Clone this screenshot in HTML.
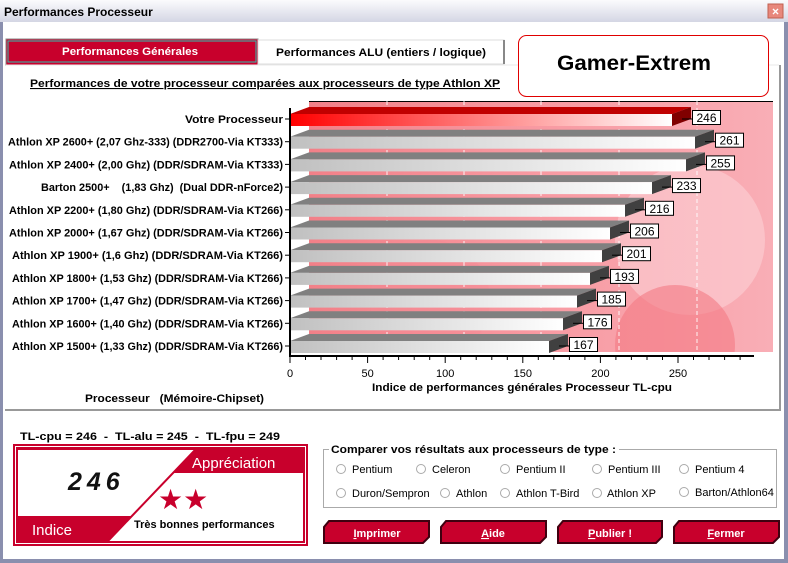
<!DOCTYPE html>
<html><head><meta charset="utf-8"><style>
html,body{margin:0;padding:0;background:#fff;}
svg{display:block;font-family:"Liberation Sans",Arial,sans-serif;}
.b{font-weight:bold;font-size:11px;}
.r{font-size:11px;}
</style></head><body>
<svg width="788" height="563" viewBox="0 0 788 563" xmlns="http://www.w3.org/2000/svg">
<defs>
<linearGradient id="tb" x1="0" y1="0" x2="0" y2="1"><stop offset="0" stop-color="#fbfbfd"/><stop offset="1" stop-color="#d4d6e4"/></linearGradient>
<linearGradient id="gg" x1="0" y1="0" x2="1" y2="0"><stop offset="0" stop-color="#c0c0c0"/><stop offset="1" stop-color="#ffffff"/></linearGradient>
<linearGradient id="rg" x1="0" y1="0" x2="1" y2="0"><stop offset="0" stop-color="#ff0000"/><stop offset="1" stop-color="#ffffff"/></linearGradient>
<linearGradient id="bg" x1="0" y1="0" x2="1" y2="0"><stop offset="0" stop-color="#f28088"/><stop offset="0.5" stop-color="#f89aa2"/><stop offset="1" stop-color="#f9aeb6"/></linearGradient>
<clipPath id="cp"><rect x="309" y="101" width="464" height="251"/></clipPath>
</defs>
<rect x="0" y="0" width="788" height="563" fill="#8a8fae"/>
<rect x="3" y="0" width="781" height="559" fill="#fff"/>
<rect x="0" y="0" width="788" height="22" fill="url(#tb)"/>
<text x="4" y="16" font-size="12" font-weight="bold" fill="#000">Performances Processeur</text>
<rect x="768" y="4" width="15" height="14" fill="#e8887c" stroke="#c06050"/>
<text x="775.5" y="15.5" font-size="12" fill="#fff" text-anchor="middle" font-weight="bold">×</text>

<rect x="6" y="39" width="252" height="26" fill="#c8002c" stroke="#888"/>
<rect x="8" y="41" width="248" height="21" fill="none" stroke="#30c0b0" stroke-width="1"/>
<text x="62" y="55" class="b" fill="#fff" font-size="12" textLength="136" lengthAdjust="spacingAndGlyphs">Performances Générales</text>
<rect x="258" y="40" width="246" height="24" fill="#fff" stroke="#ddd"/>
<line x1="504" y1="40" x2="504" y2="64" stroke="#888" stroke-width="2"/>
<text x="276" y="56" class="b" font-size="12" textLength="210" lengthAdjust="spacingAndGlyphs">Performances ALU (entiers / logique)</text>
<line x1="6" y1="65" x2="779" y2="65" stroke="#e8e8e8"/>
<line x1="780" y1="65" x2="780" y2="410" stroke="#999" stroke-width="2"/>
<line x1="5" y1="410" x2="781" y2="410" stroke="#999" stroke-width="2"/>
<rect x="518.5" y="35.5" width="250" height="61" rx="8" fill="#fff" stroke="#e00000"/>
<text x="557" y="70" font-size="21" font-weight="bold" textLength="154" lengthAdjust="spacingAndGlyphs">Gamer-Extrem</text>
<text x="30" y="87" class="b" font-size="12" text-decoration="underline" textLength="470" lengthAdjust="spacingAndGlyphs">Performances de votre processeur comparées aux processeurs de type Athlon XP</text>

<rect x="290" y="101" width="484" height="252" fill="#fff"/>
<g clip-path="url(#cp)">
<rect x="309" y="101" width="464" height="251" fill="url(#bg)"/>
<circle cx="690" cy="240" r="75" fill="#fbd0d6" opacity="0.6"/>
<circle cx="675" cy="345" r="60" fill="#f47a84" opacity="0.6"/>
<circle cx="430" cy="300" r="60" fill="#f48a94" opacity="0.4"/>
</g>
<line x1="309" y1="101.5" x2="773" y2="101.5" stroke="#000"/>
<g stroke="#fff" stroke-dasharray="4,3" opacity="0.9">
<line x1="387" y1="101" x2="387" y2="352"/><line x1="464" y1="101" x2="464" y2="352"/><line x1="541" y1="101" x2="541" y2="352"/><line x1="619" y1="101" x2="619" y2="352"/><line x1="697" y1="101" x2="697" y2="352"/>
</g>

<g class="r">
<g transform="translate(0,114)"><polygon points="290,0 309,-7 691,-7 672,0" fill="#c00000"/><rect x="290" y="0" width="382" height="12" fill="url(#rg)"/><polygon points="672,0 691,-7 691,5 672,12" fill="#800000"/><line x1="682" y1="5" x2="694" y2="5" stroke="#000"/><rect x="692.5" y="-3.5" width="28" height="14" fill="#fff" stroke="#000"/><text x="706.5" y="8" text-anchor="middle" font-size="12">246</text></g>
<g transform="translate(0,136.7)"><polygon points="290,0 309,-7 714,-7 695,0" fill="#808080"/><rect x="290" y="0" width="405" height="12" fill="url(#gg)"/><polygon points="695,0 714,-7 714,5 695,12" fill="#404040"/><line x1="705" y1="5" x2="717" y2="5" stroke="#000"/><rect x="715.5" y="-3.5" width="28" height="14" fill="#fff" stroke="#000"/><text x="729.5" y="8" text-anchor="middle" font-size="12">261</text></g>
<g transform="translate(0,159.4)"><polygon points="290,0 309,-7 705,-7 686,0" fill="#808080"/><rect x="290" y="0" width="396" height="12" fill="url(#gg)"/><polygon points="686,0 705,-7 705,5 686,12" fill="#404040"/><line x1="696" y1="5" x2="708" y2="5" stroke="#000"/><rect x="706.5" y="-3.5" width="28" height="14" fill="#fff" stroke="#000"/><text x="720.5" y="8" text-anchor="middle" font-size="12">255</text></g>
<g transform="translate(0,182.1)"><polygon points="290,0 309,-7 671,-7 652,0" fill="#808080"/><rect x="290" y="0" width="362" height="12" fill="url(#gg)"/><polygon points="652,0 671,-7 671,5 652,12" fill="#404040"/><line x1="662" y1="5" x2="674" y2="5" stroke="#000"/><rect x="672.5" y="-3.5" width="28" height="14" fill="#fff" stroke="#000"/><text x="686.5" y="8" text-anchor="middle" font-size="12">233</text></g>
<g transform="translate(0,204.8)"><polygon points="290,0 309,-7 644,-7 625,0" fill="#808080"/><rect x="290" y="0" width="335" height="12" fill="url(#gg)"/><polygon points="625,0 644,-7 644,5 625,12" fill="#404040"/><line x1="635" y1="5" x2="647" y2="5" stroke="#000"/><rect x="645.5" y="-3.5" width="28" height="14" fill="#fff" stroke="#000"/><text x="659.5" y="8" text-anchor="middle" font-size="12">216</text></g>
<g transform="translate(0,227.5)"><polygon points="290,0 309,-7 629,-7 610,0" fill="#808080"/><rect x="290" y="0" width="320" height="12" fill="url(#gg)"/><polygon points="610,0 629,-7 629,5 610,12" fill="#404040"/><line x1="620" y1="5" x2="632" y2="5" stroke="#000"/><rect x="630.5" y="-3.5" width="28" height="14" fill="#fff" stroke="#000"/><text x="644.5" y="8" text-anchor="middle" font-size="12">206</text></g>
<g transform="translate(0,250.2)"><polygon points="290,0 309,-7 621,-7 602,0" fill="#808080"/><rect x="290" y="0" width="312" height="12" fill="url(#gg)"/><polygon points="602,0 621,-7 621,5 602,12" fill="#404040"/><line x1="612" y1="5" x2="624" y2="5" stroke="#000"/><rect x="622.5" y="-3.5" width="28" height="14" fill="#fff" stroke="#000"/><text x="636.5" y="8" text-anchor="middle" font-size="12">201</text></g>
<g transform="translate(0,272.9)"><polygon points="290,0 309,-7 609,-7 590,0" fill="#808080"/><rect x="290" y="0" width="300" height="12" fill="url(#gg)"/><polygon points="590,0 609,-7 609,5 590,12" fill="#404040"/><line x1="600" y1="5" x2="612" y2="5" stroke="#000"/><rect x="610.5" y="-3.5" width="28" height="14" fill="#fff" stroke="#000"/><text x="624.5" y="8" text-anchor="middle" font-size="12">193</text></g>
<g transform="translate(0,295.6)"><polygon points="290,0 309,-7 596,-7 577,0" fill="#808080"/><rect x="290" y="0" width="287" height="12" fill="url(#gg)"/><polygon points="577,0 596,-7 596,5 577,12" fill="#404040"/><line x1="587" y1="5" x2="599" y2="5" stroke="#000"/><rect x="597.5" y="-3.5" width="28" height="14" fill="#fff" stroke="#000"/><text x="611.5" y="8" text-anchor="middle" font-size="12">185</text></g>
<g transform="translate(0,318.3)"><polygon points="290,0 309,-7 582,-7 563,0" fill="#808080"/><rect x="290" y="0" width="273" height="12" fill="url(#gg)"/><polygon points="563,0 582,-7 582,5 563,12" fill="#404040"/><line x1="573" y1="5" x2="585" y2="5" stroke="#000"/><rect x="583.5" y="-3.5" width="28" height="14" fill="#fff" stroke="#000"/><text x="597.5" y="8" text-anchor="middle" font-size="12">176</text></g>
<g transform="translate(0,341)"><polygon points="290,0 309,-7 568,-7 549,0" fill="#808080"/><rect x="290" y="0" width="259" height="12" fill="url(#gg)"/><polygon points="549,0 568,-7 568,5 549,12" fill="#404040"/><line x1="559" y1="5" x2="571" y2="5" stroke="#000"/><rect x="569.5" y="-3.5" width="28" height="14" fill="#fff" stroke="#000"/><text x="583.5" y="8" text-anchor="middle" font-size="12">167</text></g>
</g>

<line x1="290" y1="108" x2="290" y2="356" stroke="#000" stroke-width="2"/>
<g class="b" lengthAdjust="spacingAndGlyphs">
<text x="185" y="123" textLength="98" lengthAdjust="spacingAndGlyphs">Votre Processeur</text>
<text x="8" y="145.7" textLength="275" lengthAdjust="spacingAndGlyphs">Athlon XP 2600+ (2,07 Ghz-333) (DDR2700-Via KT333)</text>
<text x="9" y="168.4" textLength="274" lengthAdjust="spacingAndGlyphs">Athlon XP 2400+ (2,00 Ghz)  (DDR/SDRAM-Via KT333)</text>
<text x="41" y="191.1" xml:space="preserve" textLength="242" lengthAdjust="spacingAndGlyphs">Barton 2500+    (1,83 Ghz)  (Dual DDR-nForce2)</text>
<text x="9" y="213.8" textLength="274" lengthAdjust="spacingAndGlyphs">Athlon XP 2200+ (1,80 Ghz)  (DDR/SDRAM-Via KT266)</text>
<text x="9" y="236.5" textLength="274" lengthAdjust="spacingAndGlyphs">Athlon XP 2000+ (1,67 Ghz)  (DDR/SDRAM-Via KT266)</text>
<text x="12" y="259.2" textLength="271" lengthAdjust="spacingAndGlyphs">Athlon XP 1900+ (1,6 Ghz)  (DDR/SDRAM-Via KT266)</text>
<text x="12" y="281.9" textLength="271" lengthAdjust="spacingAndGlyphs">Athlon XP 1800+ (1,53 Ghz) (DDR/SDRAM-Via KT266)</text>
<text x="12" y="304.6" textLength="271" lengthAdjust="spacingAndGlyphs">Athlon XP 1700+ (1,47 Ghz) (DDR/SDRAM-Via KT266)</text>
<text x="12" y="327.3" textLength="271" lengthAdjust="spacingAndGlyphs">Athlon XP 1600+ (1,40 Ghz) (DDR/SDRAM-Via KT266)</text>
<text x="12" y="350" textLength="271" lengthAdjust="spacingAndGlyphs">Athlon XP 1500+ (1,33 Ghz) (DDR/SDRAM-Via KT266)</text>
</g>
<g stroke="#000">
<line x1="285" y1="119" x2="290" y2="119"/><line x1="285" y1="141.7" x2="290" y2="141.7"/><line x1="285" y1="164.4" x2="290" y2="164.4"/><line x1="285" y1="187.1" x2="290" y2="187.1"/><line x1="285" y1="209.8" x2="290" y2="209.8"/><line x1="285" y1="232.5" x2="290" y2="232.5"/><line x1="285" y1="255.2" x2="290" y2="255.2"/><line x1="285" y1="277.9" x2="290" y2="277.9"/><line x1="285" y1="300.6" x2="290" y2="300.6"/><line x1="285" y1="323.3" x2="290" y2="323.3"/><line x1="285" y1="346" x2="290" y2="346"/>
</g>
<line x1="289" y1="356" x2="754" y2="356" stroke="#000" stroke-width="2"/>
<g stroke="#000">
<line x1="290" y1="356" x2="290" y2="363"/><line x1="367.6" y1="356" x2="367.6" y2="363"/><line x1="445.2" y1="356" x2="445.2" y2="363"/><line x1="522.8" y1="356" x2="522.8" y2="363"/><line x1="600.4" y1="356" x2="600.4" y2="363"/><line x1="678" y1="356" x2="678" y2="363"/>
<line x1="305.5" y1="356" x2="305.5" y2="360"/><line x1="321" y1="356" x2="321" y2="360"/><line x1="336.6" y1="356" x2="336.6" y2="360"/><line x1="352.1" y1="356" x2="352.1" y2="360"/>
<line x1="383.1" y1="356" x2="383.1" y2="360"/><line x1="398.6" y1="356" x2="398.6" y2="360"/><line x1="414.2" y1="356" x2="414.2" y2="360"/><line x1="429.7" y1="356" x2="429.7" y2="360"/>
<line x1="460.7" y1="356" x2="460.7" y2="360"/><line x1="476.2" y1="356" x2="476.2" y2="360"/><line x1="491.8" y1="356" x2="491.8" y2="360"/><line x1="507.3" y1="356" x2="507.3" y2="360"/>
<line x1="538.3" y1="356" x2="538.3" y2="360"/><line x1="553.8" y1="356" x2="553.8" y2="360"/><line x1="569.4" y1="356" x2="569.4" y2="360"/><line x1="584.9" y1="356" x2="584.9" y2="360"/>
<line x1="615.9" y1="356" x2="615.9" y2="360"/><line x1="631.4" y1="356" x2="631.4" y2="360"/><line x1="647" y1="356" x2="647" y2="360"/><line x1="662.5" y1="356" x2="662.5" y2="360"/>
<line x1="693.5" y1="356" x2="693.5" y2="360"/><line x1="709" y1="356" x2="709" y2="360"/><line x1="724.6" y1="356" x2="724.6" y2="360"/><line x1="740.1" y1="356" x2="740.1" y2="360"/>
</g>
<g class="r" text-anchor="middle">
<text x="290" y="377">0</text><text x="367.6" y="377">50</text><text x="445.2" y="377">100</text><text x="522.8" y="377">150</text><text x="600.4" y="377">200</text><text x="678" y="377">250</text>
</g>
<text x="372" y="391" class="b" textLength="300" lengthAdjust="spacingAndGlyphs">Indice de performances générales Processeur TL-cpu</text>
<text x="85" y="402" class="b" xml:space="preserve" textLength="179" lengthAdjust="spacingAndGlyphs">Processeur   (Mémoire-Chipset)</text>

<text x="20" y="440" class="b" font-size="12" xml:space="preserve" textLength="260" lengthAdjust="spacingAndGlyphs">TL-cpu = 246  -  TL-alu = 245  -  TL-fpu = 249</text>
<rect x="13" y="444" width="295" height="102" fill="#c8002c"/>
<rect x="15.5" y="446.5" width="290" height="97" fill="none" stroke="#fff"/>
<rect x="18" y="450" width="285" height="91" fill="#fff"/>
<polygon points="195,450 303,450 303,473 173,473" fill="#c8002c"/>
<polygon points="18,516 131,516 108,541 18,541" fill="#c8002c"/>
<line x1="195" y1="450" x2="108" y2="541" stroke="#c8002c" stroke-width="2"/>
<text x="192" y="468" font-size="15" fill="#fff">Appréciation</text>
<text x="32" y="535" font-size="15" fill="#fff">Indice</text>
<text x="68" y="490" font-size="25" font-weight="bold" font-style="italic" letter-spacing="5" fill="#111">246</text>
<text x="158" y="509" font-size="28" fill="#c8002c">★★</text>
<text x="134" y="528" class="b" font-size="12">Très bonnes performances</text>

<rect x="323.5" y="449.5" width="453" height="58" fill="none" stroke="#aaa"/>
<rect x="329" y="443" width="290" height="12" fill="#fff"/>
<text x="331" y="453" class="b" textLength="285" lengthAdjust="spacingAndGlyphs">Comparer vos résultats aux processeurs de type :</text>
<g fill="#fff" stroke="#aaa">
<circle cx="341" cy="469" r="4.5"/><circle cx="421" cy="469" r="4.5"/><circle cx="505" cy="469" r="4.5"/><circle cx="597" cy="469" r="4.5"/><circle cx="684" cy="469" r="4.5"/>
<circle cx="341" cy="493" r="4.5"/><circle cx="445" cy="493" r="4.5"/><circle cx="505" cy="493" r="4.5"/><circle cx="597" cy="493" r="4.5"/><circle cx="684" cy="492" r="4.5"/>
</g>
<g class="r">
<text x="352" y="473">Pentium</text><text x="432" y="473">Celeron</text><text x="516" y="473">Pentium II</text><text x="608" y="473">Pentium III</text><text x="695" y="473">Pentium 4</text>
<text x="352" y="497">Duron/Sempron</text><text x="456" y="497">Athlon</text><text x="516" y="497">Athlon T-Bird</text><text x="607" y="497">Athlon XP</text><text x="695" y="496">Barton/Athlon64</text>
</g>

<g fill="#c8002c" stroke="#400010" stroke-width="2">
<polygon points="329,521 429,521 429,537 423,543 324,543 324,527"/>
<polygon points="446,521 546,521 546,537 540,543 441,543 441,527"/>
<polygon points="563,521 662,521 662,537 656,543 558,543 558,527"/>
<polygon points="679,521 779,521 779,537 773,543 674,543 674,527"/>
</g>
<g class="b" fill="#fff" text-anchor="middle" font-size="12">
<text x="377" y="537"><tspan text-decoration="underline">I</tspan>mprimer</text>
<text x="493" y="537"><tspan text-decoration="underline">A</tspan>ide</text>
<text x="610" y="537"><tspan text-decoration="underline">P</tspan>ublier !</text>
<text x="726" y="537"><tspan text-decoration="underline">F</tspan>ermer</text>
</g>
</svg>
</body></html>
